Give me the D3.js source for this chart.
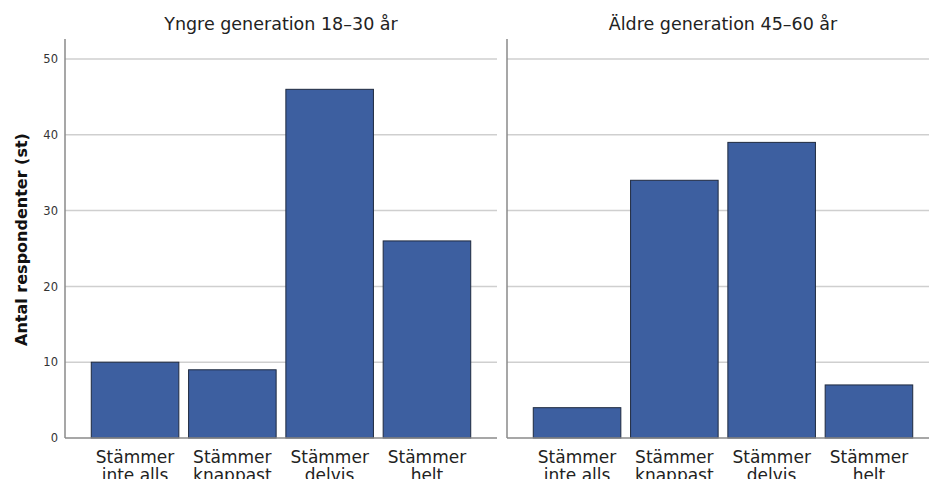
<!DOCTYPE html>
<html>
<head>
<meta charset="utf-8">
<script src="https://cdn.jsdelivr.net/npm/d3@7"></script>
<style>
  html, body { margin: 0; padding: 0; background: #fff; }
  svg { display: block; font-family: "DejaVu Sans", sans-serif; }
</style>
</head>
<body>
<svg id="chart" width="929" height="479"></svg>
<script>
const categories = [["Stämmer", "inte alls"], ["Stämmer", "knappast"], ["Stämmer", "delvis"], ["Stämmer", "helt"]];
const panelTitles = ["Yngre generation 18–30 år", "Äldre generation 45–60 år"];
const youngValues = [10, 9, 46, 26];
const oldValues = [4, 34, 39, 7];
const yTicks = [0, 10, 20, 30, 40, 50];
const yTitle = "Antal respondenter (st)";

const svg = d3.select("#chart");
const y = d3.scaleLinear().domain([0, 50]).range([438, 59]);
const axisTop = 39;

const panels = [
  { title: panelTitles[0], values: youngValues, x0: 65, x1: 497, showTicks: true },
  { title: panelTitles[1], values: oldValues, x0: 507, x1: 939, showTicks: false }
];

const keys = categories.map((c, i) => i);

panels.forEach(p => {
  const x = d3.scaleBand().domain(keys).range([p.x0, p.x1]).paddingInner(0.1).paddingOuter(0.27);
  const g = svg.append("g");

  // gridlines
  g.selectAll("line.grid").data(yTicks.filter(t => t > 0)).join("line")
    .attr("x1", p.x0).attr("x2", p.x1)
    .attr("y1", d => y(d)).attr("y2", d => y(d))
    .attr("stroke", "#cfcfcf").attr("stroke-width", 1.5);

  // bars
  g.selectAll("rect.bar").data(p.values).join("rect")
    .attr("x", (d, i) => x(i))
    .attr("width", x.bandwidth())
    .attr("y", d => y(d))
    .attr("height", d => y(0) - y(d))
    .attr("fill", "#3d5fa0")
    .attr("stroke", "#1f2a3f")
    .attr("stroke-width", 1);

  // baseline
  g.append("line").attr("x1", p.x0).attr("x2", p.x1)
    .attr("y1", y(0)).attr("y2", y(0))
    .attr("stroke", "#8a8a8a").attr("stroke-width", 1.5);

  // vertical axis line
  g.append("line").attr("x1", p.x0).attr("x2", p.x0)
    .attr("y1", axisTop).attr("y2", y(0))
    .attr("stroke", "#8a8a8a").attr("stroke-width", 1.5);

  // y tick labels
  if (p.showTicks) {
    const yAxis = d3.axisLeft(y).tickValues(yTicks).tickSize(0).tickPadding(7);
    const ax = g.append("g").attr("transform", `translate(${p.x0},0)`).call(yAxis);
    ax.select(".domain").remove();
    ax.selectAll("text").attr("font-size", 11.5).attr("fill", "#333")
      .attr("font-family", "DejaVu Sans, sans-serif");
  }

  // category labels
  const lab = g.selectAll("text.cat").data(categories).join("text")
    .attr("class", "cat")
    .attr("x", (d, i) => x(i) + x.bandwidth() / 2)
    .attr("y", 463)
    .attr("text-anchor", "middle")
    .attr("font-size", 17)
    .attr("fill", "#222");
  lab.selectAll("tspan").data(d => d).join("tspan")
    .attr("x", function() { return d3.select(this.parentNode).attr("x"); })
    .attr("dy", (d, i) => i === 0 ? 0 : "1.08em")
    .text(d => d);

  // title
  g.append("text")
    .attr("x", (p.x0 + p.x1) / 2)
    .attr("y", 30)
    .attr("text-anchor", "middle")
    .attr("font-size", 17.5)
    .attr("fill", "#222")
    .text(p.title);
});

// y axis title
svg.append("text")
  .attr("transform", `translate(27,${(axisTop + 438) / 2 + 1}) rotate(-90)`)
  .attr("text-anchor", "middle")
  .attr("font-size", 16)
  .attr("font-weight", "bold")
  .attr("fill", "#111")
  .text(yTitle);
</script>
</body>
</html>
